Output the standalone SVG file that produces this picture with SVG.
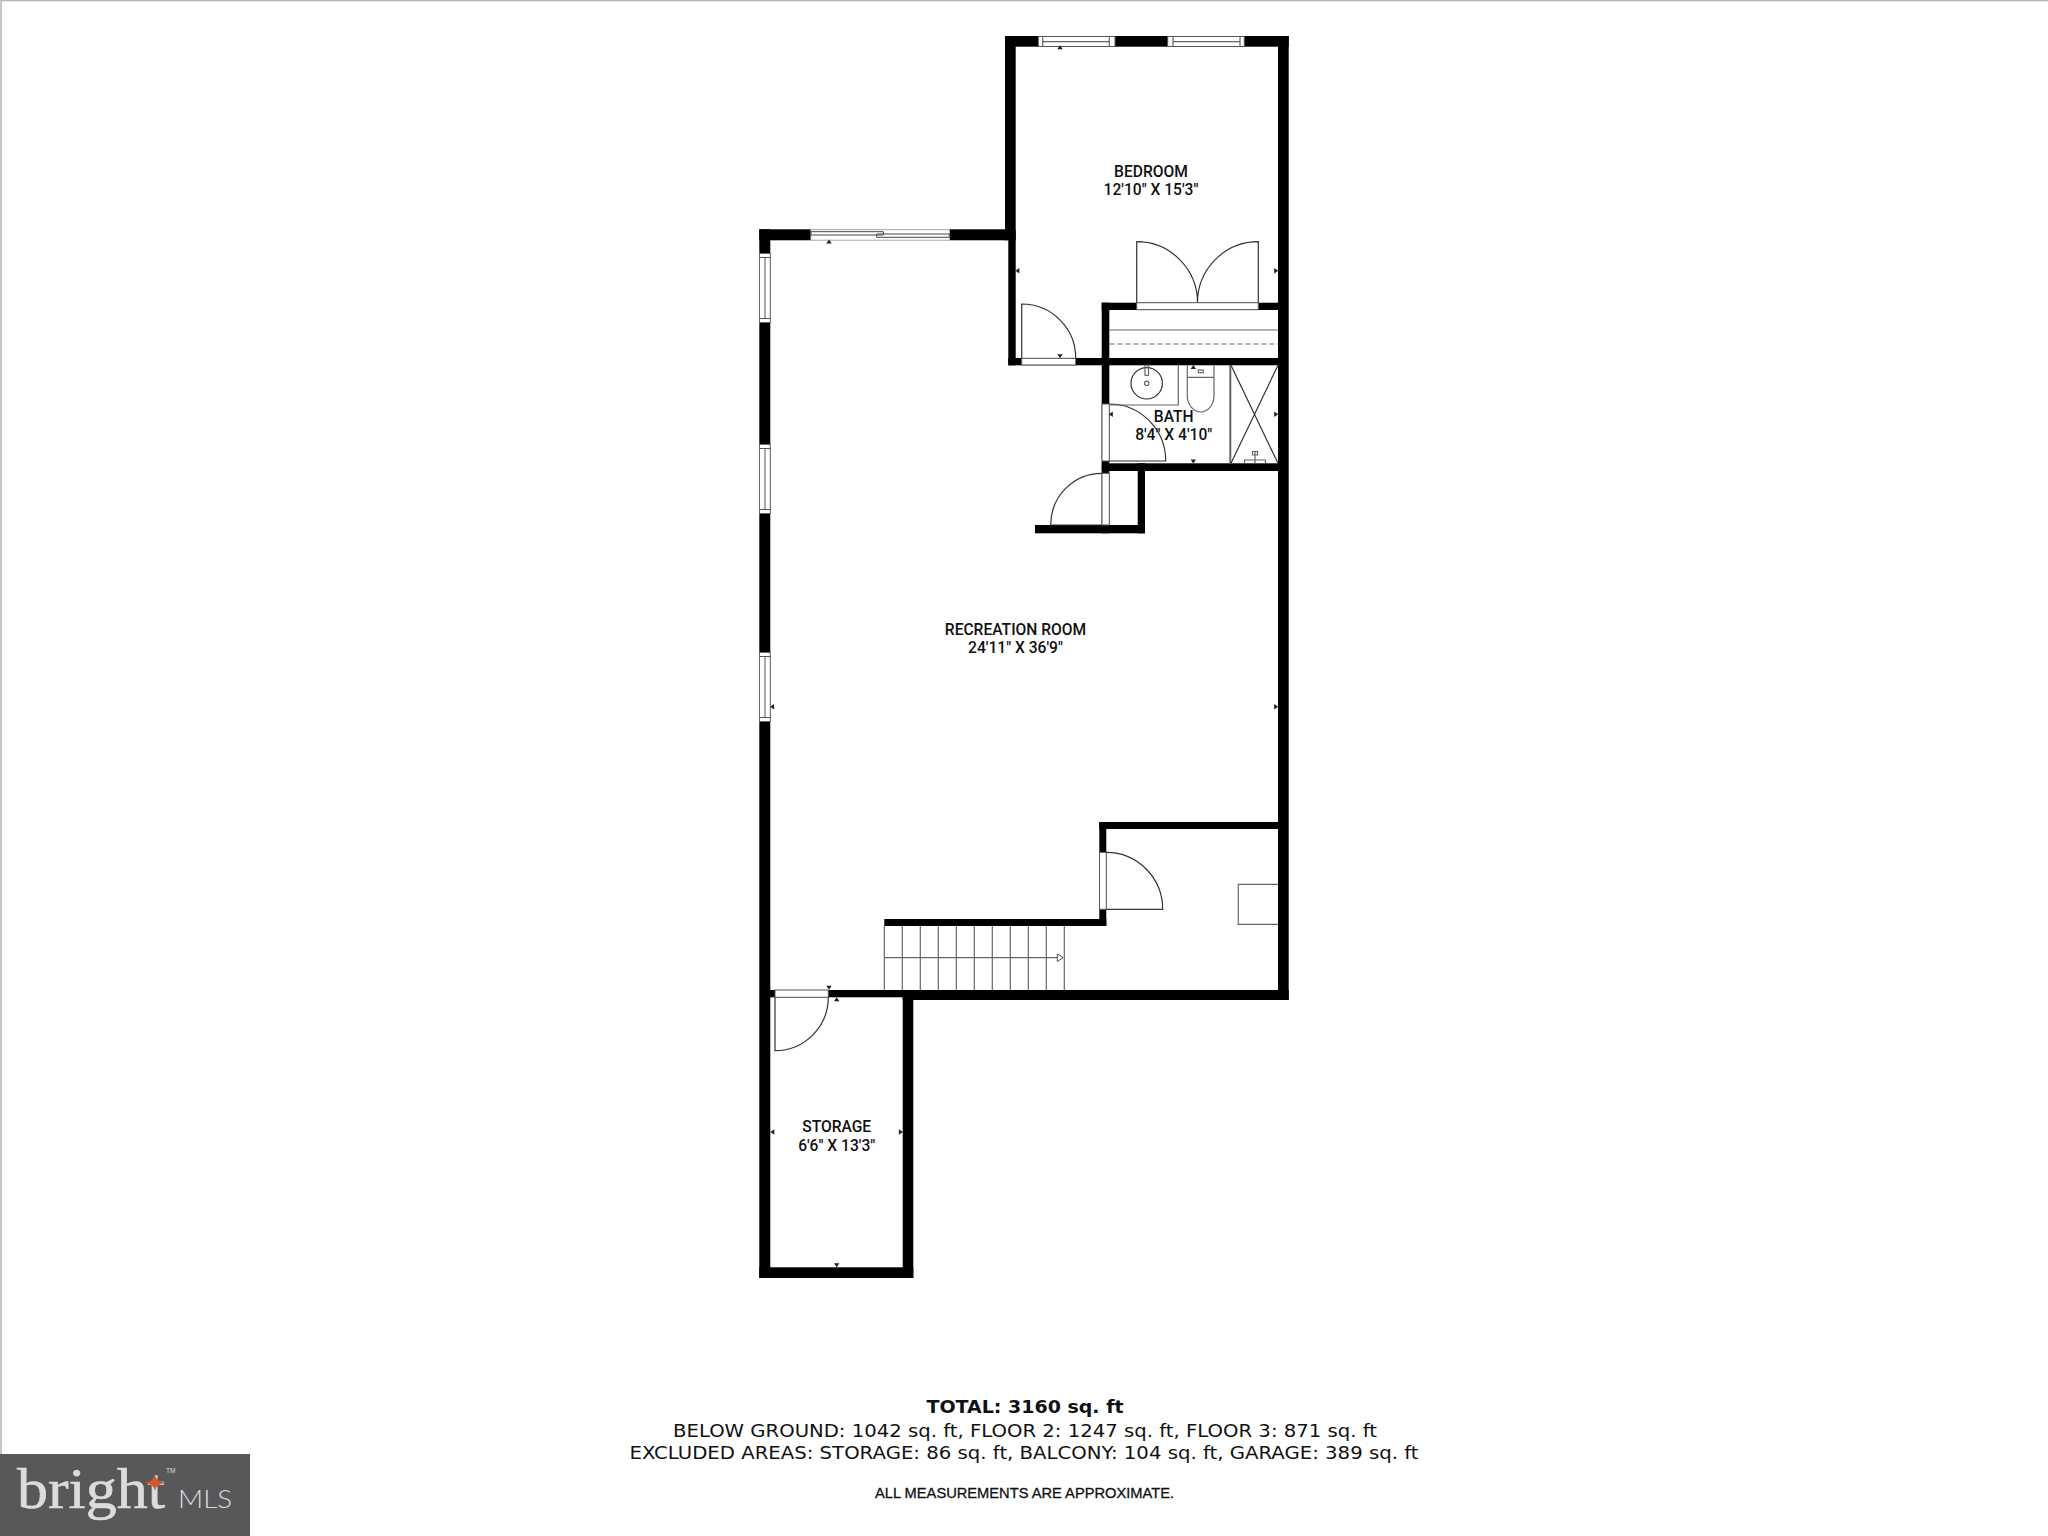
<svg xmlns="http://www.w3.org/2000/svg" width="2048" height="1536" viewBox="0 0 2048 1536">
<defs>
<style>
.w{fill:#000}
.o{fill:#fff;stroke:#555;stroke-width:1}
.l{fill:none;stroke:#333;stroke-width:1.2}
.g{fill:none;stroke:#666;stroke-width:1.2}
.a{fill:#222}
.r{font-family:Roboto,"Liberation Sans",sans-serif;font-weight:500;font-size:15.6px;text-anchor:middle;fill:#111}
.t{font-family:"DejaVu Sans",Verdana,sans-serif;font-size:17.5px;fill:#111}
</style>
<path id="au" d="M-2.7 1.8H2.7L0-2.2Z"/>
<g id="win"><rect x="759.5" y="0" width="10.8" height="69" fill="#fff" stroke="#666" stroke-width="1"/><path d="M765 4V65M759.5 4H770.3M759.5 65H770.3" stroke="#555" stroke-width="1" fill="none"/></g>
</defs>
<rect width="2048" height="1536" fill="#fff"/>
<path d="M1 1454V.5H2048" fill="none" stroke="#b4b4b4" stroke-width="1.5"/>

<g id="walls" class="w">
<rect x="1005" y="36" width="283.7" height="10.7"/>
<rect x="1005" y="36" width="10.7" height="204.3"/>
<rect x="1008.3" y="230" width="7.4" height="135.3"/>
<rect x="1278" y="36" width="10.7" height="964"/>
<rect x="1008.3" y="358" width="270" height="7.3"/>
<rect x="1101.7" y="302.7" width="176.6" height="7.3"/>
<rect x="1101.7" y="302.7" width="7.6" height="230.6"/>
<rect x="1101.7" y="463.3" width="176.6" height="7.7"/>
<rect x="1137.7" y="463.3" width="7.3" height="70"/>
<rect x="1035" y="525" width="110" height="8.3"/>
<rect x="759.3" y="229.3" width="11" height="1048.7"/>
<rect x="759.3" y="229.3" width="248" height="11"/>
<rect x="1099.3" y="822" width="179" height="7"/>
<rect x="1099.3" y="822" width="7" height="104"/>
<rect x="884.3" y="919" width="222" height="7"/>
<rect x="770" y="990" width="510" height="7.3"/>
<rect x="902.7" y="990" width="386" height="10"/>
<rect x="902.7" y="990" width="10.6" height="288"/>
<rect x="759.3" y="1267.3" width="154" height="10.7"/>
</g>

<g id="bedroom">
<rect class="o" x="1038.3" y="36.5" width="76.7" height="10"/><path class="g" d="M1042.7 36.5V46.5M1109.3 36.5V46.5M1042.7 41.7H1109.3"/>
<rect class="o" x="1167.7" y="36.5" width="76.6" height="10"/><path class="g" d="M1173 36.5V46.5M1240 36.5V46.5M1173 41.7H1240"/>
<rect class="o" x="1021.7" y="358.3" width="54" height="6.7"/>
<path class="l" d="M1021.7 358V304A54 54 0 0 1 1075.7 358"/>
<rect class="o" x="1136.7" y="302.7" width="121.6" height="7"/>
<path class="l" d="M1136.7 302.7V241.7A60.8 61 0 0 1 1197.5 302.7A60.8 61 0 0 1 1258.3 241.7V302.7"/>
<path class="g" d="M1109.3 330H1278"/>
<path class="g" stroke-dasharray="5 3" d="M1109.3 344H1278"/>
<use href="#au" class="a" transform="translate(1060 47.5)"/>
<use href="#au" class="a" transform="translate(1060 356) rotate(180)"/>
<use href="#au" class="a" transform="translate(1017.6 270.7) rotate(-90)"/>
<use href="#au" class="a" transform="translate(1276 270.7) rotate(90)"/>
<text class="r" x="1151" y="177">BEDROOM</text>
<text class="r" x="1151" y="195">12'10" X 15'3"</text>
</g>

<g id="bath">
<rect x="1102" y="404" width="7.3" height="57" class="o"/>
<path class="l" d="M1109.3 404A56.4 57 0 0 1 1165.7 461H1109.3"/>
<path class="g" d="M1109.3 405H1178.3V365.3"/>
<circle cx="1146.7" cy="383.3" r="15.7" class="l"/>
<circle cx="1146.7" cy="383.3" r="2.2" class="g"/>
<rect x="1145" y="365.3" width="3.5" height="10" class="g"/>
<path class="g" d="M1187.3 365.3V377.3H1214V365.3M1187.3 377.3V396C1187.3 405 1194 412 1200.6 412C1207.5 412 1214 405 1214 396V377.3"/>
<rect x="1198.3" y="370" width="5" height="2.7" class="g"/>
<path d="M1230.3 365.3V463.3" stroke="#666" stroke-width="2" fill="none"/>
<path class="l" d="M1231 365.3L1278 463.3M1278 365.3L1231 463.3"/>
<path class="g" d="M1255 451.5V463M1252.5 451.5H1257.5V455H1252.5ZM1244.5 463V460H1265.5V463"/>
<use href="#au" class="a" transform="translate(1193.3 367.3)"/>
<use href="#au" class="a" transform="translate(1193.3 461.3) rotate(180)"/>
<use href="#au" class="a" transform="translate(1111 414.3) rotate(-90)"/>
<use href="#au" class="a" transform="translate(1276 414.3) rotate(90)"/>
<text class="r" x="1173.7" y="422">BATH</text>
<text class="r" x="1173.7" y="440">8'4" X 4'10"</text>
</g>

<g id="recreation-room">
<rect x="811" y="229.8" width="138.3" height="10.2" fill="#fff" stroke="#ccc" stroke-width="1"/>
<path d="M811 231.7H883.3V235H811ZM876.7 234H949.3V237.3H876.7Z" fill="#fff" stroke="#444" stroke-width="1"/>
<use href="#au" class="a" transform="translate(829 241.7)"/>
<use href="#win" transform="translate(0 253.5)"/>
<use href="#win" transform="translate(0 444.5)"/>
<use href="#win" transform="translate(0 652.5)"/>
<rect x="1102" y="473.3" width="7.3" height="51.7" class="o"/>
<path class="l" d="M1101.7 473.3A51 51.7 0 0 0 1050.7 525H1101.7"/>
<use href="#au" class="a" transform="translate(772.3 706.7) rotate(-90)"/>
<use href="#au" class="a" transform="translate(1276 706.7) rotate(90)"/>
<text class="r" x="1015.5" y="635">RECREATION ROOM</text>
<text class="r" x="1015.5" y="653">24'11" X 36'9"</text>
</g>

<g id="stairs-utility">
<path class="g" d="M884.3 926V990M902.3 926V990M920.3 926V990M938.3 926V990M956.3 926V990M974.3 926V990M992.3 926V990M1010.3 926V990M1028.3 926V990M1046.3 926V990M1064.3 926V990M884.3 957.7H1057"/>
<path d="M1057.3 954L1063.3 957.7L1057.3 961.5Z" fill="#fff" stroke="#555" stroke-width="1"/>
<rect x="1099.5" y="852.3" width="6.8" height="57" class="o"/>
<path class="l" d="M1106.3 852.3A56.4 57 0 0 1 1162.7 909.3H1106.3"/>
<path class="g" d="M1278.3 884.3H1238.3V924.3H1278.3"/>
</g>

<g id="storage">
<rect x="775" y="990" width="53.3" height="7.3" class="o"/>
<path class="l" d="M775 997.3V1050.7A53.3 53.4 0 0 0 828.3 997.3"/>
<use href="#au" class="a" transform="translate(829 987.5) rotate(180)"/>
<use href="#au" class="a" transform="translate(836.7 999.5)"/>
<use href="#au" class="a" transform="translate(772.5 1132) rotate(-90)"/>
<use href="#au" class="a" transform="translate(900.7 1132) rotate(90)"/>
<use href="#au" class="a" transform="translate(836.7 1265) rotate(180)"/>
<text class="r" x="836.7" y="1132">STORAGE</text>
<text class="r" x="836.7" y="1150.7">6'6" X 13'3"</text>
</g>

<g id="summary">
<text class="t" x="1025" y="1413.3" text-anchor="middle" font-weight="700" textLength="197" lengthAdjust="spacingAndGlyphs">TOTAL: 3160 sq. ft</text>
<text class="t" x="1025" y="1436.7" text-anchor="middle" textLength="704" lengthAdjust="spacingAndGlyphs">BELOW GROUND: 1042 sq. ft, FLOOR 2: 1247 sq. ft, FLOOR 3: 871 sq. ft</text>
<text class="t" x="1024" y="1459.3" text-anchor="middle" textLength="789" lengthAdjust="spacingAndGlyphs">EXCLUDED AREAS: STORAGE: 86 sq. ft, BALCONY: 104 sq. ft, GARAGE: 389 sq. ft</text>
<text x="1024.5" y="1498.3" text-anchor="middle" font-family="'Liberation Sans',Arial,sans-serif" font-size="14px" fill="#111" stroke="#111" stroke-width=".3" textLength="299" lengthAdjust="spacingAndGlyphs">ALL MEASUREMENTS ARE APPROXIMATE.</text>
</g>

<g id="bright-logo">
<rect x="0" y="1454" width="250" height="82" fill="#58585a"/>
<text x="17" y="1508" font-family="'Liberation Serif','Times New Roman',serif" font-size="56px" stroke="#dcdcdc" stroke-width=".6" fill="#dcdcdc" textLength="148" lengthAdjust="spacingAndGlyphs">bright</text>
<path d="M155 1474C156 1480 159 1482 166 1482.7C159 1483.5 156 1486 155 1491C154 1486 151 1483.5 144 1482.7C151 1482 154 1480 155 1474Z" fill="#d9532c"/>
<text x="166" y="1473" font-family="'Liberation Sans',sans-serif" font-size="6.5px" fill="#dcdcdc">TM</text>
<text x="178" y="1508" font-family="Lato,'Open Sans',sans-serif" font-weight="300" font-size="26px" fill="#dcdcdc" textLength="54" lengthAdjust="spacingAndGlyphs">MLS</text>
</g>
</svg>
